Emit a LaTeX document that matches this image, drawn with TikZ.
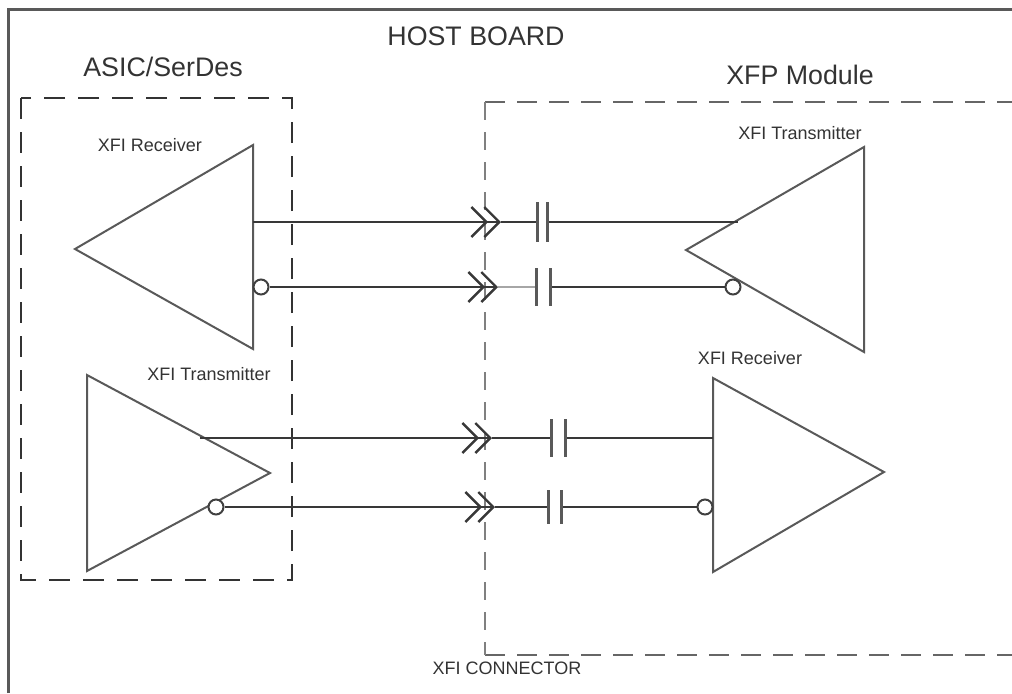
\documentclass[tikz,border=0pt]{standalone}
\usepackage{fontspec}
\setmainfont{Liberation Sans}
\usetikzlibrary{arrows.meta}
\tikzset{
    wire/.style={line width=1.2pt, draw=black!78},
    fadedwire/.style={line width=1pt, draw=black!35},
    amp/.style={line width=1pt, draw=black!65, line join=miter},
    plate/.style={line width=1.5pt, draw=black!65},
    bubble/.style={circle, draw=black!75, line width=1pt, fill=white, minimum size=7.5pt, inner sep=0pt},
    chevrons/.style={-{Straight Barb[length=7.5pt,width=15pt,sep=-2.5pt]Straight Barb[length=7.5pt,width=15pt]}},
    blockline/.style={line width=1.1pt, draw=black!80, dash pattern=on 10.5pt off 6.5pt},
    moduleline/.style={line width=1.3pt, draw=black!60, dash pattern=on 10pt off 6pt},
    moduleside/.style={line width=1pt, draw=black!50, dash pattern=on 9pt off 6pt},
    bigtext/.style={text=black!80, font=\fontsize{13.4}{15}\selectfont},
    smalltext/.style={text=black!80, font=\fontsize{9}{11}\selectfont}
}
\begin{document}
\begin{tikzpicture}[x=0.5pt, y=-0.5pt]
    \useasboundingbox (0, 0) rectangle (1012, 693);
    % board frame, open to the right and below
    \draw[line width=1.5pt, draw=black!65] (8.5, 693) -- (8.5, 9) -- (1012, 9);
    \draw[blockline] (21, 98) rectangle (292, 580);
    \draw[moduleline] (485, 102) -- (1012, 102);
    \draw[moduleline] (485, 655) -- (1012, 655);
    \draw[moduleside] (485, 102) -- (485, 655);

    % amplifiers
    \draw[amp] (253, 145) -- (75, 249) -- (253, 349) -- cycle;
    \draw[amp] (864, 147) -- (686, 250) -- (864, 352) -- cycle;
    \draw[amp] (87, 375) -- (270, 473) -- (87, 571) -- cycle;
    \draw[amp] (713, 378) -- (884, 472) -- (713, 572) -- cycle;

    \node[bubble] (bubbleA) at (261, 287) {};
    \node[bubble] (bubbleB) at (733, 287) {};
    \node[bubble] (bubbleC) at (216, 507) {};
    \node[bubble] (bubbleD) at (705, 507) {};

    % row 1
    \coordinate (startA) at (253, 222);
    \coordinate (jackA) at (501, 222);
    \coordinate (capAl) at (537, 222);
    \coordinate (capAr) at (547, 222);
    \coordinate (endA) at (738, 222);
    % row 2
    \coordinate (jackB) at (498, 287);
    \coordinate (capBl) at (536, 287);
    \coordinate (capBr) at (550, 287);
    % row 3
    \coordinate (startC) at (200, 438);
    \coordinate (jackC) at (492, 438);
    \coordinate (capCl) at (551, 438);
    \coordinate (capCr) at (565, 438);
    \coordinate (endC) at (713, 438);
    % row 4
    \coordinate (jackD) at (495, 507);
    \coordinate (capDl) at (548, 507);
    \coordinate (capDr) at (561, 507);

    \draw[wire, chevrons] (startA) -- (jackA);
    \draw[wire] (jackA) -- (capAl);
    \draw[wire] (capAr) -- (endA);
    \draw[wire, chevrons] (bubbleA) -- (jackB);
    \draw[fadedwire] (jackB) -- (capBl);
    \draw[wire] (capBr) -- (bubbleB);
    \draw[wire, chevrons] (startC) -- (jackC);
    \draw[wire] (jackC) -- (capCl);
    \draw[wire] (capCr) -- (endC);
    \draw[wire, chevrons] (bubbleC) -- (jackD);
    \draw[wire] (jackD) -- (capDl);
    \draw[wire] (capDr) -- (bubbleD);

    \foreach \i/\h in {A/20, B/19, C/19, D/17} {
        \draw[plate] (cap\i l) ++(0, -\h) -- ++(0, 2*\h);
        \draw[plate] (cap\i r) ++(0, -\h) -- ++(0, 2*\h);
    }

    \node[bigtext] (hostLabel) at (476, 36) {HOST BOARD};
    \node[bigtext] (asicLabel) at (163, 67) {ASIC/SerDes};
    \node[bigtext] (moduleLabel) at (800, 75) {XFP Module};
    \node[smalltext] (rxLeft) at (150, 145) {XFI Receiver};
    \node[smalltext] (txRight) at (800, 133) {XFI Transmitter};
    \node[smalltext] (txLeft) at (209, 374) {XFI Transmitter};
    \node[smalltext] (rxRight) at (750, 358) {XFI Receiver};
    \node[smalltext] (connLabel) at (507, 668) {XFI CONNECTOR};
\end{tikzpicture}
\end{document}
